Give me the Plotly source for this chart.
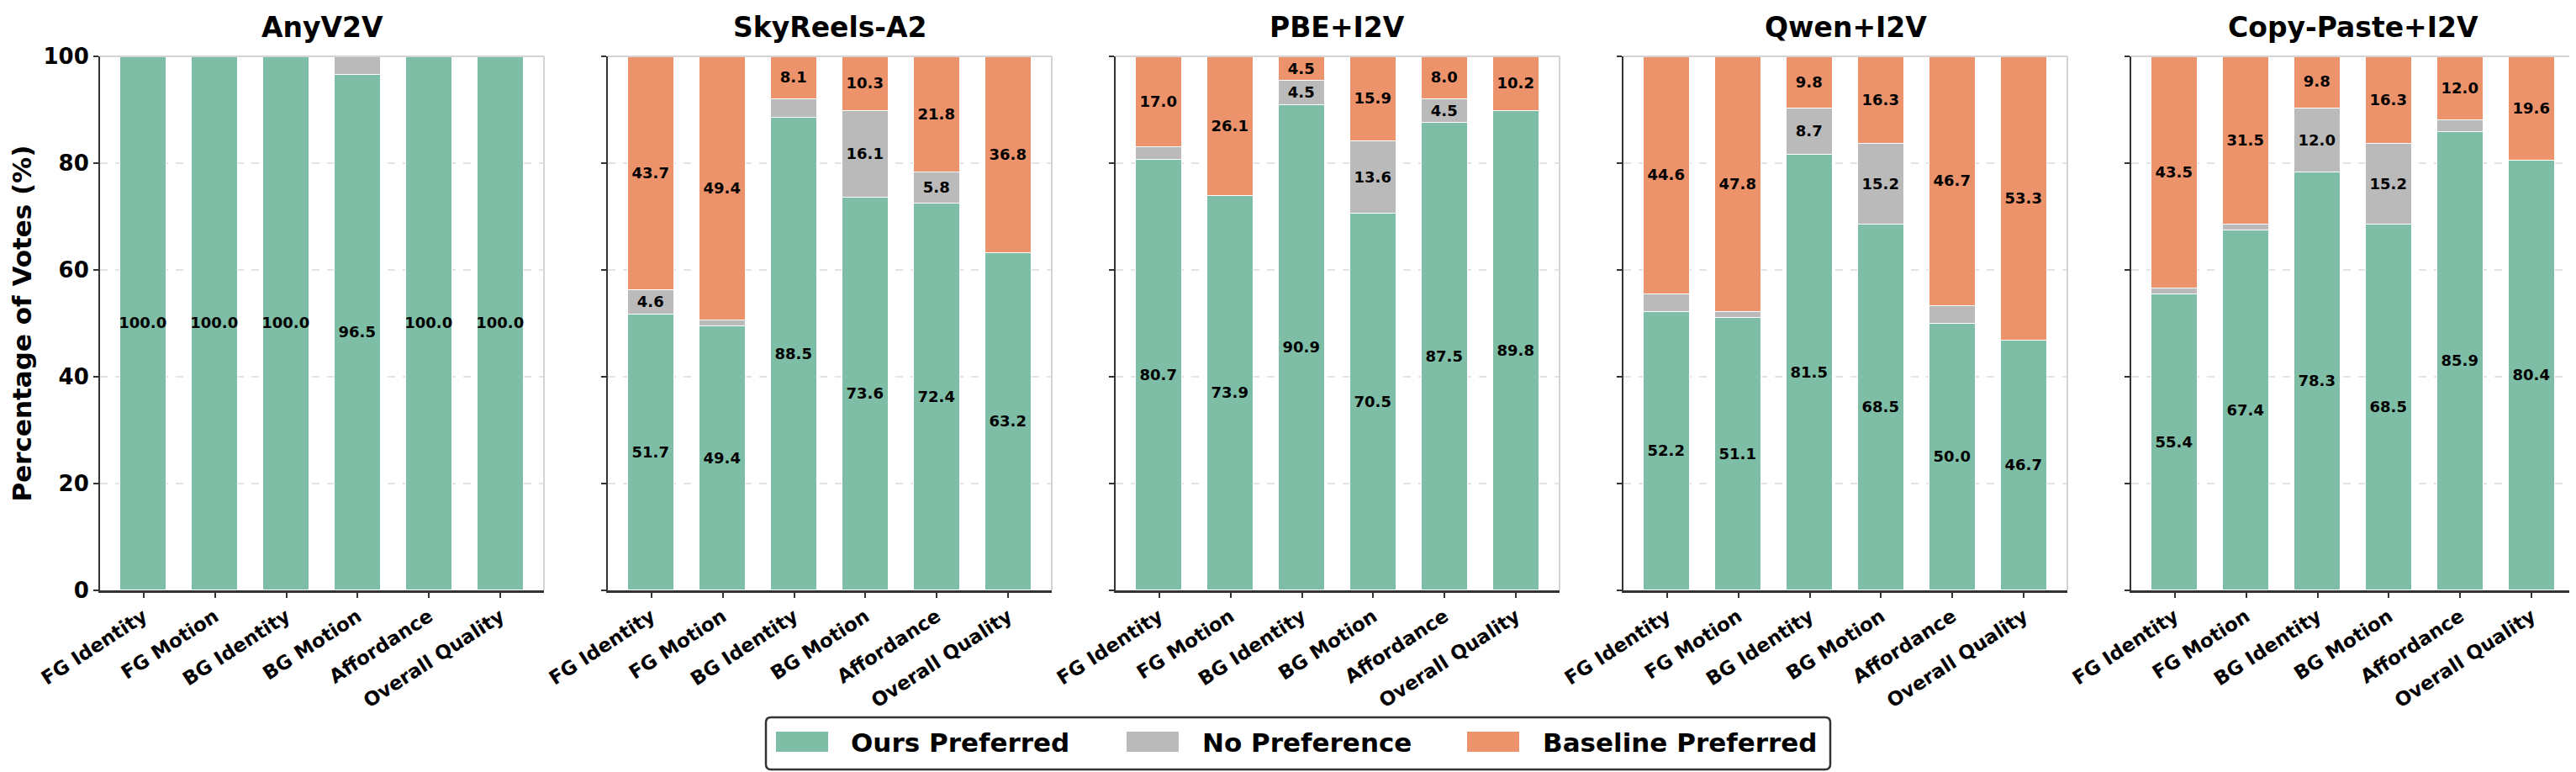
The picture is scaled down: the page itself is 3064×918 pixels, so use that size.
import plotly.graph_objects as go

# ---------------- data ----------------
categories = ["FG Identity", "FG Motion", "BG Identity", "BG Motion", "Affordance", "Overall Quality"]
baselines = ["AnyV2V", "SkyReels-A2", "PBE+I2V", "Qwen+I2V", "Copy-Paste+I2V"]

anyv2v_ours = [100.0, 100.0, 100.0, 96.5, 100.0, 100.0]
anyv2v_none = [0.0, 0.0, 0.0, 3.5, 0.0, 0.0]
anyv2v_base = [0.0, 0.0, 0.0, 0.0, 0.0, 0.0]

skyreels_ours = [51.7, 49.4, 88.5, 73.6, 72.4, 63.2]
skyreels_none = [4.6, 1.2, 3.4, 16.1, 5.8, 0.0]
skyreels_base = [43.7, 49.4, 8.1, 10.3, 21.8, 36.8]

pbe_ours = [80.7, 73.9, 90.9, 70.5, 87.5, 89.8]
pbe_none = [2.3, 0.0, 4.5, 13.6, 4.5, 0.0]
pbe_base = [17.0, 26.1, 4.5, 15.9, 8.0, 10.2]

qwen_ours = [52.2, 51.1, 81.5, 68.5, 50.0, 46.7]
qwen_none = [3.2, 1.1, 8.7, 15.2, 3.3, 0.0]
qwen_base = [44.6, 47.8, 9.8, 16.3, 46.7, 53.3]

copypaste_ours = [55.4, 67.4, 78.3, 68.5, 85.9, 80.4]
copypaste_none = [1.1, 1.1, 12.0, 15.2, 2.1, 0.0]
copypaste_base = [43.5, 31.5, 9.8, 16.3, 12.0, 19.6]

series_names = ["Ours Preferred", "No Preference", "Baseline Preferred"]
y_ticks = [0, 20, 40, 60, 80, 100]
y_title = "Percentage of Votes (%)"

panels = [
    (anyv2v_ours, anyv2v_none, anyv2v_base),
    (skyreels_ours, skyreels_none, skyreels_base),
    (pbe_ours, pbe_none, pbe_base),
    (qwen_ours, qwen_none, qwen_base),
    (copypaste_ours, copypaste_none, copypaste_base),
]

# ---------------- style ----------------
W, H = 3064, 918
COLORS = ["#7EBEA6", "#BABABA", "#EC936C"]
FONT = "DejaVu Sans"
DARK = "#333333"
LIGHT = "#d4d4d4"
LABEL_MIN = 4.0


def px(x):
    return x / W


def py(y):
    return 1 - y / H


panel_left0, panel_step, panel_w = 111, 604, 528
y_dom = [py(694), py(59)]

fig = go.Figure()

for i, (name, vals) in enumerate(zip(baselines, panels)):
    ax = "" if i == 0 else str(i + 1)
    xref, yref = "x" + ax, "y" + ax
    for s, (sname, v, col) in enumerate(zip(series_names, vals, COLORS)):
        fig.add_trace(go.Bar(
            x=list(range(len(categories))), y=v, name=sname,
            marker=dict(color=col, line=dict(color="white", width=1.5)),
            width=0.65,
            text=[f"{t:.1f}" if t > LABEL_MIN else "" for t in v],
            textposition="inside", insidetextanchor="middle", textangle=0,
            constraintext="none",
            textfont=dict(family=FONT, size=18, color="black", weight="bold"),
            xaxis=xref, yaxis=yref, showlegend=False,
            legendgroup=sname,
        ))
    left = panel_left0 + i * panel_step
    dom = [px(left), px(left + panel_w)]
    xa = dict(
        domain=dom, anchor=yref, range=[-0.6075, 5.6075],
        tickmode="array", tickvals=list(range(len(categories))), ticktext=categories,
        tickangle=-33, ticks="outside", ticklen=6, tickwidth=1.5, tickcolor=DARK,
        showline=True, linecolor=DARK, linewidth=2.5, showgrid=False, zeroline=False,
        tickfont=dict(family=FONT, size=23, color="black", weight="bold"),
        automargin=False,
    )
    ya = dict(
        domain=y_dom, anchor=xref, range=[0, 100],
        tickmode="array", tickvals=y_ticks, ticks="outside", ticklen=6, tickwidth=1.5,
        tickcolor=DARK, showline=True, linecolor=DARK, linewidth=2,
        showgrid=True, gridcolor="#e3e3e3", griddash="dash", gridwidth=1.5,
        zeroline=False, showticklabels=(i == 0),
        tickfont=dict(family=FONT, size=26, color="black", weight="bold"),
        automargin=False,
    )
    if i == 0:
        ya["title"] = dict(text=y_title, standoff=6,
                           font=dict(family=FONT, size=31, color="black", weight="bold"))
    fig.layout["xaxis" + ax] = xa
    fig.layout["yaxis" + ax] = ya
    # light top / right spines
    fig.add_shape(type="line", xref=xref + " domain", yref=yref + " domain",
                  x0=0, x1=1, y0=1, y1=1, line=dict(color=LIGHT, width=2))
    fig.add_shape(type="line", xref=xref + " domain", yref=yref + " domain",
                  x0=1, x1=1, y0=0, y1=1, line=dict(color=LIGHT, width=2))
    # subplot title
    fig.add_annotation(text=name, xref="paper", yref="paper",
                       x=(dom[0] + dom[1]) / 2, y=py(24), xanchor="center", yanchor="middle",
                       showarrow=False,
                       font=dict(family=FONT, size=33, color="black", weight="bold"))

# ---------------- custom legend (boxed, centered at bottom) ----------------
bx0, bx1, by0, by1, r = 903, 2169, 845, 907, 6
path = (f"M {px(bx0 + r)},{py(by0)} L {px(bx1 - r)},{py(by0)} "
        f"Q {px(bx1)},{py(by0)} {px(bx1)},{py(by0 + r)} "
        f"L {px(bx1)},{py(by1 - r)} Q {px(bx1)},{py(by1)} {px(bx1 - r)},{py(by1)} "
        f"L {px(bx0 + r)},{py(by1)} Q {px(bx0)},{py(by1)} {px(bx0)},{py(by1 - r)} "
        f"L {px(bx0)},{py(by0 + r)} Q {px(bx0)},{py(by0)} {px(bx0 + r)},{py(by0)} Z")
fig.add_shape(type="path", path=path, xref="paper", yref="paper",
              line=dict(color=DARK, width=2.5), fillcolor="white")
swatch_x = [915, 1332, 1737]
text_x = [1002, 1420, 1825]
for sname, col, sx, tx in zip(series_names, COLORS, swatch_x, text_x):
    fig.add_shape(type="rect", xref="paper", yref="paper",
                  x0=px(sx), x1=px(sx + 62), y0=py(886), y1=py(862),
                  line=dict(width=0), fillcolor=col)
    fig.add_annotation(text=sname, xref="paper", yref="paper", x=px(tx), y=py(875),
                       xanchor="left", yanchor="middle", showarrow=False,
                       font=dict(family=FONT, size=31, color="black", weight="bold"))

fig.update_layout(
    width=W, height=H, template="none",
    barmode="stack", bargap=0,
    margin=dict(l=0, r=0, t=0, b=0),
    paper_bgcolor="white", plot_bgcolor="white",
    font=dict(family=FONT, color="black"),
    showlegend=False,
    uniformtext=dict(minsize=18, mode="show"),
)

fig.write_html("out.html")
